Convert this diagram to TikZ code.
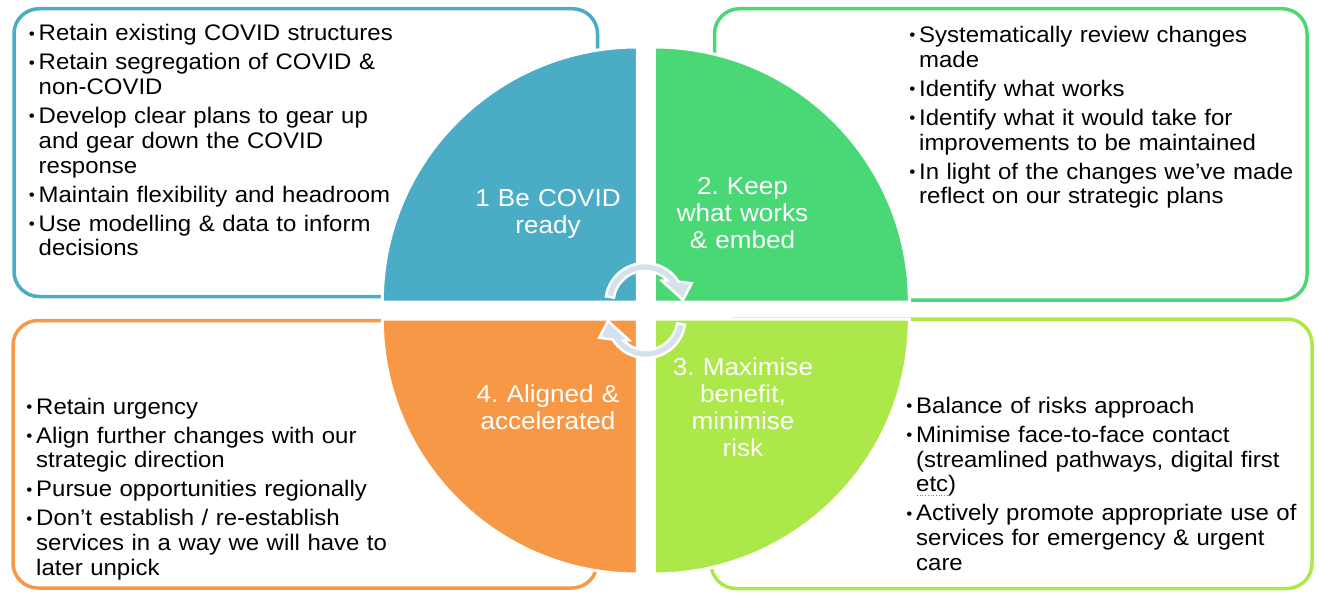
\documentclass[tikz,border=0pt]{standalone}
\usepackage{fontspec}
\setmainfont{Liberation Sans}[FakeStretch=1.065]
\definecolor{cblue}{HTML}{4BACC6}
\definecolor{cgreen}{HTML}{4AD877}
\definecolor{clime}{HTML}{ACE84A}
\definecolor{corange}{HTML}{F79847}
\definecolor{arrowfill}{HTML}{D4E3EB}
\newcommand{\bul}[1]{\hangindent=11pt\hangafter=1\leavevmode\makebox[11pt][l]{\hspace{1.2pt}\raisebox{1.6pt}{\scalebox{0.72}{\textbullet}}}#1\par}
\newcommand{\cycpath}{(-171:39.5) arc[start angle=-171,end angle=-32,radius=39.5] -- (46.7,-19.2) -- (38,-2.5) -- (16.7,-21.8) -- (-45:31.5) arc[start angle=-45,end angle=-171,radius=31.5] -- cycle}
\frenchspacing
\begin{document}
\frenchspacing
\begin{tikzpicture}[x=1pt,y=-1pt,
  box/.style={line width=3.5pt, rounded corners=25pt},
  quad/.style={draw=white, line width=3pt},
  body/.style={anchor=base west, inner sep=0pt, text width=480pt, align=left,
    font=\fontsize{22.5}{24.8}\selectfont\frenchspacing, text=black},
  lab/.style={anchor=base, inner sep=0pt, text width=220pt, align=center,
    font=\fontsize{24.5}{27.2}\selectfont\frenchspacing, text=white},
  cyc/.style={fill=arrowfill, draw=white, line width=2.5pt, line join=miter}]
\useasboundingbox (0,0) rectangle (1319,592);
\fill[white] (0,0) rectangle (1319,592);
% outer boxes
\draw[box, draw=cblue] (14,8.7) rectangle (597.5,296.5);
\draw[box, draw=cgreen] (714.5,8.7) rectangle (1307,300);
\draw[box, draw=corange] (13,320.5) rectangle (597,588);
\draw[box, draw=clime] (711,319) rectangle (1312,588.5);
% quadrants
\filldraw[quad, fill=cblue] (637.3,302) -- (382.3,302) arc[start angle=180,end angle=270,radius=255] -- cycle;
\filldraw[quad, fill=cgreen] (654.3,302) -- (654.3,47) arc[start angle=270,end angle=360,radius=255] -- cycle;
\filldraw[quad, fill=clime] (654.3,319) -- (909.3,319) arc[start angle=0,end angle=90,radius=255] -- cycle;
\filldraw[quad, fill=corange] (637.3,319) -- (637.3,574) arc[start angle=90,end angle=180,radius=255] -- cycle;
% quadrant labels
\node[lab] (l1) at (548,206.7) {1 Be COVID\\ready};
\node[lab] (l2) at (742.5,194) {2. Keep\\what works\\\& embed};
\node[lab] (l3) at (743,375) {3. Maximise\\benefit,\\minimise\\risk};
\node[lab] (l4) at (548,402.7) {4. Aligned \&\\accelerated};
% circular arrows
\begin{scope}[shift={(645,302.5)}]
\filldraw[cyc] \cycpath;
\end{scope}
\begin{scope}[shift={(646,318.5)}, rotate=180]
\filldraw[cyc] \cycpath;
\end{scope}
% bullet texts
\node[body] (tltext) at (27.5,40.7) {\setlength{\parskip}{4.2pt}%
\bul{Retain existing COVID structures}%
\bul{Retain segregation of COVID \&\newline non-COVID}%
\bul{Develop clear plans to gear up\newline and gear down the COVID\newline response}%
\bul{Maintain flexibility and headroom}%
\bul{Use modelling \& data to inform\newline decisions}};
\node[body] (trtext) at (908,42.5) {\setlength{\parskip}{4.2pt}%
\bul{Systematically review changes\newline made}%
\bul{Identify what works}%
\bul{Identify what it would take for\newline improvements to be maintained}%
\bul{In light of the changes we’ve made\newline reflect on our strategic plans}};
\node[body] (bltext) at (25,414) {\setlength{\parskip}{4.2pt}%
\bul{Retain urgency}%
\bul{Align further changes with our\newline strategic direction}%
\bul{Pursue opportunities regionally}%
\bul{Don’t establish / re-establish\newline services in a way we will have to\newline later unpick}};
\node[body] (brtext) at (905,413.3) {\setlength{\parskip}{4.2pt}%
\bul{Balance of risks approach}%
\bul{Minimise face-to-face contact\newline (streamlined pathways, digital first\newline etc)}%
\bul{Actively promote appropriate use of\newline services for emergency \& urgent\newline care}};
\draw[red!70, line width=0.7pt, dotted] (917,495.5) -- (949,495.5);
\end{tikzpicture}
\end{document}
